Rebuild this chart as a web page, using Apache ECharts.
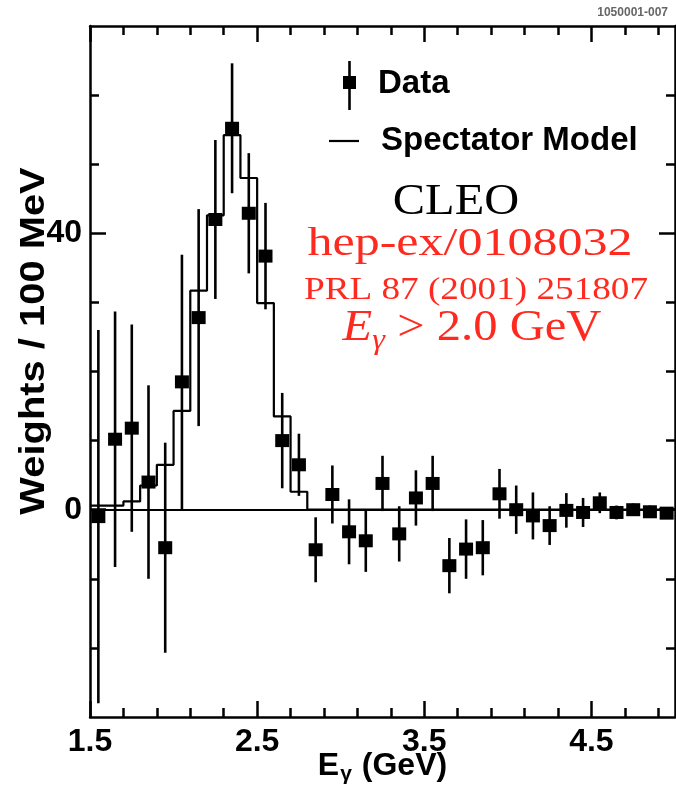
<!DOCTYPE html>
<html>
<head>
<meta charset="utf-8">
<script src="https://cdn.jsdelivr.net/npm/echarts@6/dist/echarts.min.js"></script>
<style>
  html, body { margin: 0; padding: 0; background: #fff; }
  #chart { width: 676px; height: 785px; }
</style>
</head>
<body>
<div id="chart"></div>
<script>
// Photon energy bin centres (GeV), 100 MeV bins
const eCenters = [1.55, 1.65, 1.75, 1.85, 1.95, 2.05, 2.15, 2.25, 2.35, 2.45,
                  2.55, 2.65, 2.75, 2.85, 2.95, 3.05, 3.15, 3.25, 3.35, 3.45,
                  3.55, 3.65, 3.75, 3.85, 3.95, 4.05, 4.15, 4.25, 4.35, 4.45,
                  4.55, 4.65, 4.75, 4.85, 4.95];
// Measured weights per bin and their uncertainties
const weights = [-1.0, 10.2, 11.8, 4.0, -5.5, 18.5, 27.8, 42.0, 55.2, 42.9,
                 36.7, 10.0, 6.5, -5.8, 2.2, -3.2, -4.5, 3.8, -3.5, 1.7,
                 3.8, -8.1, -5.7, -5.5, 2.3, 0.0, -0.9, -2.3, -0.1, -0.4,
                 1.0, -0.4, 0.0, -0.3, -0.5];
const weightErrors = [27.0, 18.5, 15.0, 14.0, 15.2, 18.4, 15.7, 11.5, 9.4, 8.7,
                      7.7, 6.9, 4.5, 4.7, 4.2, 4.7, 4.5, 4.0, 4.0, 4.0,
                      4.0, 4.0, 4.3, 4.0, 3.6, 3.5, 3.4, 2.8, 2.5, 2.1,
                      1.5, 1.0, 0.9, 0.9, 0.8];
// Spectator model histogram: bin low edges and contents
const modelEdges = [1.5, 1.6, 1.7, 1.8, 1.9, 2.0, 2.1, 2.2, 2.3, 2.4, 2.5, 2.6, 2.7, 2.8, 5.0];
const modelWeights = [0.6, 0.6, 1.2, 3.5, 6.5, 14.3, 31.7, 42.6, 54.2, 48.0, 29.9, 13.5, 2.6, 0, 0];
// Axis ticks
const xMajorTicks = [1.5, 2.5, 3.5, 4.5];
const xMinorTicks = [1.7, 1.9, 2.1, 2.3, 2.7, 2.9, 3.1, 3.3, 3.7, 3.9, 4.1, 4.3, 4.7, 4.9];
const yMajorTicks = [0, 40];
const yMinorTicks = [-20, -10, 10, 20, 30, 50, 60];

const SANS = "'Liberation Sans', Arial, Helvetica, sans-serif";
const SERIF = "'Liberation Serif', 'Times New Roman', serif";
const RED = '#ff2a1f';

const chart = echarts.init(document.getElementById('chart'), null, { renderer: 'canvas' });

function xAxisDef(position, ticks, len, showLabels, showLine) {
  return {
    type: 'value', gridIndex: 0, position: position, min: 1.5, max: 5.0,
    axisLine: { show: showLine, onZero: false, lineStyle: { color: '#000', width: 2.5 } },
    axisTick: { show: true, inside: true, length: len, customValues: ticks,
                lineStyle: { color: '#000', width: 2.5 } },
    axisLabel: { show: showLabels, customValues: ticks, margin: 9,
                 fontFamily: SANS, fontWeight: 'bold', fontSize: 32, color: '#000' },
    splitLine: { show: false }
  };
}
function yAxisDef(position, ticks, len, showLabels, showLine) {
  return {
    type: 'value', gridIndex: 0, position: position, min: -30, max: 70,
    axisLine: { show: showLine, onZero: false, lineStyle: { color: '#000', width: 2.5 } },
    axisTick: { show: true, inside: true, length: len, customValues: ticks,
                lineStyle: { color: '#000', width: 2.5 } },
    axisLabel: { show: showLabels, customValues: ticks, margin: 8,
                 fontFamily: SANS, fontWeight: 'bold', fontSize: 32, color: '#000' },
    splitLine: { show: false }
  };
}

const xMain = xAxisDef('bottom', xMajorTicks, 16, true, true);
xMain.name = '{e|E}{g|γ}{t| (GeV)}';
xMain.nameLocation = 'middle';
xMain.nameGap = 33;
xMain.nameMoveOverlap = false;
xMain.nameTextStyle = {
  rich: {
    e: { fontFamily: SANS, fontWeight: 'bold', fontSize: 32, lineHeight: 30, verticalAlign: 'top', color: '#000' },
    g: { fontFamily: SANS, fontWeight: 'bold', fontSize: 21, lineHeight: 20, padding: [14, 1, 0, 1], verticalAlign: 'top', color: '#000' },
    t: { fontFamily: SANS, fontWeight: 'bold', fontSize: 32, lineHeight: 30, verticalAlign: 'top', color: '#000' }
  }
};

const yMain = yAxisDef('left', yMajorTicks, 16, true, true);

const option = {
  backgroundColor: '#fff',
  animation: false,
  grid: { left: 90, right: 1, top: 26, bottom: 68, containLabel: false, outerBoundsMode: 'none' },
  xAxis: [
    xMain,
    xAxisDef('bottom', xMinorTicks, 9, false, false),
    xAxisDef('top', xMajorTicks, 16, false, true),
    xAxisDef('top', xMinorTicks, 9, false, false)
  ],
  yAxis: [
    yMain,
    yAxisDef('left', yMinorTicks, 9, false, false),
    yAxisDef('right', yMajorTicks, 16, false, true),
    yAxisDef('right', yMinorTicks, 9, false, false)
  ],
  series: [
    {
      name: 'Spectator Model',
      type: 'line',
      xAxisIndex: 0, yAxisIndex: 0,
      step: 'end',
      symbol: 'none',
      data: modelEdges.map((x, i) => [x, modelWeights[i]]),
      lineStyle: { color: '#000', width: 2.2 },
      clip: true,
      markLine: {
        silent: true,
        symbol: ['none', 'none'],
        label: { show: false },
        lineStyle: { color: '#000', width: 2.2, type: 'solid' },
        data: [{ yAxis: 0 }]
      },
      z: 3
    },
    {
      name: 'Data',
      type: 'custom',
      xAxisIndex: 0, yAxisIndex: 0,
      data: eCenters.map((x, i) => [x, weights[i], weightErrors[i]]),
      encode: { x: 0, y: 1 },
      clip: true,
      z: 4,
      renderItem: function (params, api) {
        const x = api.value(0), y = api.value(1), e = api.value(2);
        const c = api.coord([x, y]);
        const hi = api.coord([x, y + e]);
        const lo = api.coord([x, y - e]);
        const w = 14, h = 13;
        return {
          type: 'group',
          children: [
            { type: 'line', shape: { x1: c[0], y1: hi[1], x2: c[0], y2: lo[1] },
              style: { stroke: '#000', lineWidth: 2.6 } },
            { type: 'rect', shape: { x: c[0] - w / 2, y: c[1] - h / 2, width: w, height: h },
              style: { fill: '#000' } }
          ]
        };
      }
    }
  ],
  graphic: [
    // y-axis title
    { type: 'text', x: 34, y: 341, rotation: Math.PI / 2, scaleX: 1.14,
      style: { text: 'Weights / 100 MeV', font: 'bold 35px ' + SANS, fill: '#000', align: 'center', verticalAlign: 'middle' } },
    // legend: data marker with error bar
    { type: 'line', shape: { x1: 349.5, y1: 61, x2: 349.5, y2: 110 }, style: { stroke: '#000', lineWidth: 2.6 } },
    { type: 'rect', shape: { x: 343, y: 76, width: 13, height: 13 }, style: { fill: '#000' } },
    { type: 'text', x: 378, y: 84, style: { text: 'Data', font: 'bold 33px ' + SANS, fill: '#000', verticalAlign: 'middle', align: 'left' } },
    // legend: model line
    { type: 'line', shape: { x1: 329, y1: 141, x2: 359, y2: 141 }, style: { stroke: '#000', lineWidth: 2.2 } },
    { type: 'text', x: 381, y: 141, style: { text: 'Spectator Model', font: 'bold 33px ' + SANS, fill: '#000', verticalAlign: 'middle', align: 'left' } },
    // annotations
    { type: 'text', x: 456, y: 180, scaleX: 1.1,
      style: { text: 'CLEO', font: '44px ' + SERIF, fill: '#000', align: 'center', verticalAlign: 'top' } },
    { type: 'text', x: 470, y: 224, scaleX: 1.22,
      style: { text: 'hep-ex/0108032', font: '41px ' + SERIF, fill: RED, align: 'center', verticalAlign: 'top' } },
    { type: 'text', x: 476, y: 275, scaleX: 1.2,
      style: { text: 'PRL 87 (2001) 251807', font: '31px ' + SERIF, fill: RED, align: 'center', verticalAlign: 'top' } },
    { type: 'text', x: 472, y: 306, scaleX: 1.08,
      style: {
        text: '{e|E}{g|γ}{t| > 2.0 GeV}', align: 'center', verticalAlign: 'top',
        rich: {
          e: { fontFamily: SERIF, fontStyle: 'italic', fontSize: 45, lineHeight: 40, verticalAlign: 'top', fill: RED, color: RED },
          g: { fontFamily: SERIF, fontStyle: 'italic', fontSize: 30, lineHeight: 30, padding: [20, 0, 0, 0], verticalAlign: 'top', fill: RED, color: RED },
          t: { fontFamily: SERIF, fontSize: 45, lineHeight: 40, verticalAlign: 'top', fill: RED, color: RED }
        }
      } },
    // figure id
    { type: 'text', x: 668, y: 13, style: { text: '1050001-007', font: 'bold 12px ' + SANS, fill: '#666', align: 'right', verticalAlign: 'middle' } }
  ]
};

chart.setOption(option);
</script>
</body>
</html>
